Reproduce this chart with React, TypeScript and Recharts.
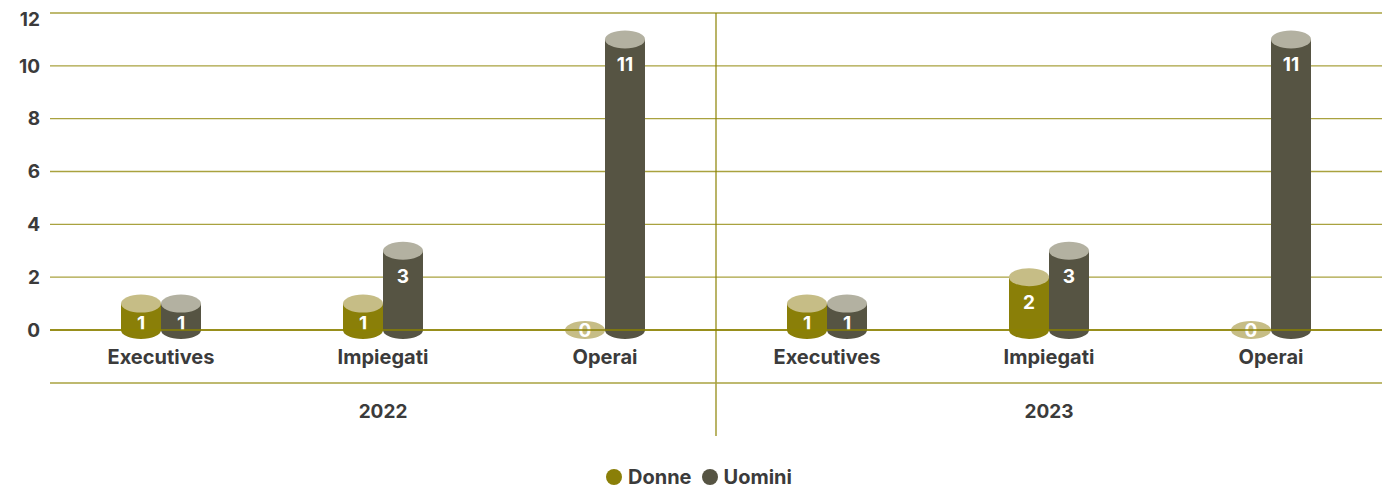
import React from 'react';
import {
  Bar,
  BarChart,
  CartesianGrid,
  Legend,
  ReferenceLine,
  XAxis,
  YAxis,
} from 'recharts';

const categories = ['Executives', 'Impiegati', 'Operai', 'Executives', 'Impiegati', 'Operai'];
const years = ['2022', '2022', '2022', '2023', '2023', '2023'];
const donne = [1, 1, 0, 1, 2, 0];
const uomini = [1, 3, 11, 1, 3, 11];
const yTicks = [0, 2, 4, 6, 8, 10, 12];

const data = categories.map((cat, i) => ({
  cat,
  year: years[i],
  Donne: donne[i],
  Uomini: uomini[i],
}));

const FONT = 'Inter, "Noto Sans", sans-serif';
const TEXT = '#3b3b3b';
const GRID = '#a9a23f';
const LINE = '#8b8200';

const COLORS = {
  Donne: { body: '#8a7f08', top: '#c6bd86' },
  Uomini: { body: '#565443', top: '#b3b1a1' },
};

const RY = 9;

const makeCylinder = (key: 'Donne' | 'Uomini') => (props: any) => {
  const { x, y, width, height, payload } = props;
  const value = payload[key];
  const cx = x + width / 2;
  const rx = width / 2;
  const c = COLORS[key];
  const bottom = y + height;

  if (!value) {
    return (
      <g>
        <ellipse cx={cx} cy={bottom} rx={rx} ry={RY} fill={c.top} />
        <text
          x={cx}
          y={bottom}
          dy="0.36em"
          textAnchor="middle"
          fill="#fff"
          fontSize={19}
          fontWeight={700}
        >
          {value}
        </text>
      </g>
    );
  }

  const labelY = Math.min(y + 25, bottom - 7);
  return (
    <g>
      <ellipse cx={cx} cy={bottom} rx={rx} ry={RY} fill={c.body} />
      <rect x={x} y={y} width={width} height={height} fill={c.body} />
      <ellipse cx={cx} cy={y} rx={rx} ry={RY} fill={c.top} />
      <text
        x={cx}
        y={labelY}
        dy="0.36em"
        textAnchor="middle"
        fill="#fff"
        fontSize={19}
        fontWeight={700}
      >
        {value}
      </text>
    </g>
  );
};

const Divider = (p: any) => {
  const top = Math.min(p.y1, p.y2);
  const bot = Math.max(p.y1, p.y2);
  return <line x1={p.x1} x2={p.x1} y1={top} y2={bot + 106} stroke={LINE} strokeWidth={1.2} />;
};

const LegendContent = () => (
  <div
    style={{
      height: 30,
      display: 'flex',
      justifyContent: 'center',
      alignItems: 'center',
      paddingTop: 6,
      paddingLeft: 8,
      boxSizing: 'border-box',
      gap: 10,
      fontFamily: FONT,
      fontWeight: 700,
      fontSize: 20,
      color: TEXT,
    }}
  >
    {(['Donne', 'Uomini'] as const).map((k) => (
      <span key={k} style={{ display: 'flex', alignItems: 'center', gap: 6 }}>
        <span
          style={{
            width: 16,
            height: 16,
            borderRadius: '50%',
            background: COLORS[k].body,
            display: 'inline-block',
          }}
        />
        {k}
      </span>
    ))}
  </div>
);

export default function App() {
  return (
    <div style={{ fontFamily: FONT, width: 1384, height: 481 }}>
      <BarChart
        width={1384}
        height={481}
        data={data}
        barGap={0}
        barSize={40}
        margin={{ top: 5, right: 10, bottom: 0, left: 0 }}
      >
        <CartesianGrid vertical={false} stroke={GRID} strokeWidth={1.3} />
        <YAxis
          domain={[0, 12]}
          ticks={yTicks}
          width={42}
          axisLine={false}
          tickLine={false}
          tickSize={0}
          tickMargin={10}
          tick={{ fill: TEXT, fontSize: 19, fontWeight: 700 }}
        />
        <XAxis
          dataKey="cat"
          height={53}
          axisLine={{ stroke: LINE, strokeWidth: 1.3 }}
          tickLine={false}
          tickSize={0}
          tickMargin={20}
          interval={0}
          tick={{ fill: TEXT, fontSize: 20, fontWeight: 700 }}
        />
        <XAxis
          xAxisId="year"
          dataKey="year"
          allowDuplicatedCategory={false}
          height={76}
          axisLine={{ stroke: GRID, strokeWidth: 1.3 }}
          tickLine={false}
          tickSize={0}
          tickMargin={22}
          interval={0}
          tick={{ fill: TEXT, fontSize: 19, fontWeight: 700 }}
        />
        <ReferenceLine
          xAxisId="year"
          x="2023"
          position="start"
          ifOverflow="visible"
          shape={Divider}
        />
        <Legend verticalAlign="bottom" content={<LegendContent />} />
        <Bar dataKey="Donne" fill={COLORS.Donne.body} shape={makeCylinder('Donne')} isAnimationActive={false} />
        <Bar dataKey="Uomini" fill={COLORS.Uomini.body} shape={makeCylinder('Uomini')} isAnimationActive={false} />
      </BarChart>
    </div>
  );
}
